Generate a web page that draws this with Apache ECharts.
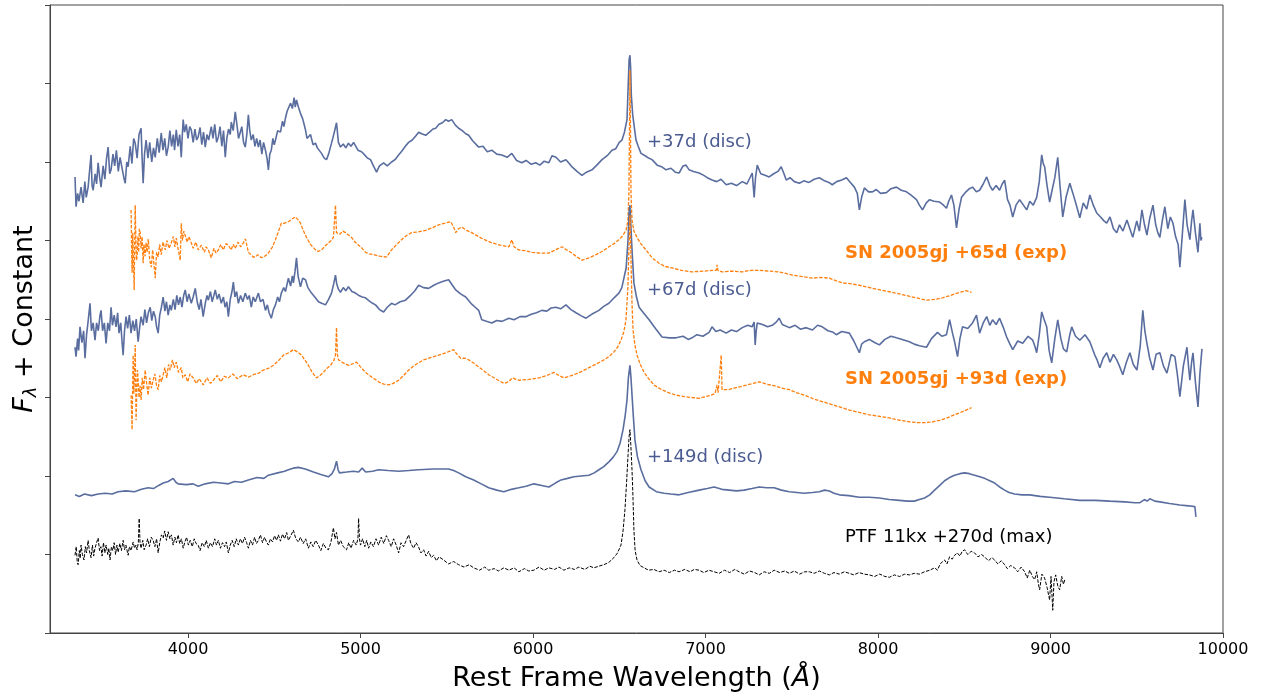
<!DOCTYPE html>
<html><head><meta charset="utf-8">
<script src="https://cdn.jsdelivr.net/npm/echarts@6/dist/echarts.min.js"></script>
<style>html,body{margin:0;padding:0;background:#fff}#c{width:1265px;height:698px}</style>
</head><body><div id="c"></div>
<script>
const xTicks = [4000,5000,6000,7000,8000,9000,10000];
const labels = ['+37d (disc)','SN 2005gj +65d (exp)','+67d (disc)','SN 2005gj +93d (exp)','+149d (disc)','PTF 11kx +270d (max)'];

const s37 = [[3345,5.81],[3351,5.43],[3360,5.60],[3368,5.50],[3380,5.68],[3392,5.48],[3402,5.75],[3410,5.55],[3421,5.68],[3430,5.90],[3438,6.09],[3444,5.70],[3450,5.64],[3462,5.85],[3470,5.72],[3479,5.99],[3488,5.80],[3496,5.68],[3508,5.95],[3518,5.78],[3528,6.05],[3537,6.19],[3546,5.85],[3554,5.90],[3565,6.10],[3575,5.95],[3585,6.15],[3596,5.88],[3606,6.06],[3618,5.92],[3628,5.80],[3636,5.73],[3645,6.00],[3653,5.94],[3665,6.20],[3675,5.98],[3685,6.30],[3694,6.24],[3705,6.05],[3716,6.35],[3728,6.43],[3734,6.05],[3740,5.73],[3748,6.10],[3757,6.28],[3768,6.05],[3778,6.25],[3790,6.00],[3800,6.18],[3810,6.06],[3822,6.30],[3833,6.12],[3845,6.37],[3855,6.15],[3865,6.30],[3875,6.08],[3885,6.19],[3895,6.40],[3905,6.20],[3915,6.35],[3922,6.15],[3932,6.41],[3942,6.20],[3952,6.35],[3961,6.06],[3966,6.30],[3972,6.54],[3980,6.38],[3990,6.48],[4000,6.30],[4010,6.45],[4019,6.41],[4030,6.25],[4040,6.42],[4050,6.28],[4059,6.32],[4070,6.44],[4080,6.22],[4090,6.38],[4100,6.19],[4110,6.35],[4120,6.28],[4135,6.45],[4145,6.30],[4155,6.48],[4166,6.25],[4176,6.32],[4186,6.45],[4196,6.20],[4206,6.40],[4216,6.06],[4225,6.30],[4235,6.42],[4245,6.35],[4251,6.51],[4262,6.40],[4274,6.64],[4285,6.45],[4293,6.30],[4303,6.32],[4312,6.45],[4322,6.25],[4332,6.19],[4341,6.35],[4350,6.60],[4358,6.40],[4367,6.28],[4378,6.35],[4388,6.20],[4398,6.30],[4408,6.19],[4418,6.28],[4428,6.10],[4438,6.25],[4449,6.15],[4458,6.05],[4466,5.90],[4474,6.10],[4483,6.15],[4492,6.30],[4500,6.22],[4507,6.28],[4520,6.40],[4536,6.38],[4548,6.52],[4556,6.45],[4565,6.56],[4575,6.65],[4582,6.66],[4595,6.75],[4605,6.68],[4615,6.82],[4622,6.70],[4629,6.79],[4640,6.70],[4652,6.62],[4665,6.55],[4681,6.41],[4690,6.30],[4698,6.31],[4710,6.35],[4725,6.22],[4739,6.24],[4750,6.18],[4760,6.20],[4774,6.11],[4790,6.05],[4803,6.03],[4815,6.10],[4832,6.24],[4845,6.35],[4861,6.50],[4872,6.25],[4884,6.19],[4900,6.23],[4915,6.18],[4930,6.24],[4945,6.20],[4960,6.25],[4971,6.24],[4985,6.15],[5006,6.13],[5020,6.10],[5040,6.05],[5058,6.03],[5075,5.95],[5093,5.87],[5110,5.95],[5134,5.99],[5155,5.95],[5180,6.00],[5200,6.03],[5221,6.09],[5240,6.14],[5260,6.20],[5279,6.25],[5300,6.28],[5320,6.33],[5337,6.38],[5355,6.36],[5378,6.34],[5400,6.38],[5420,6.42],[5436,6.43],[5455,6.48],[5475,6.50],[5494,6.54],[5510,6.52],[5529,6.54],[5550,6.47],[5569,6.43],[5590,6.40],[5610,6.36],[5627,6.34],[5650,6.27],[5685,6.19],[5710,6.20],[5735,6.13],[5761,6.15],[5790,6.10],[5819,6.09],[5850,6.06],[5877,6.11],[5905,6.02],[5935,5.99],[5960,6.02],[5990,5.97],[6016,5.99],[6040,5.96],[6065,6.01],[6092,5.99],[6110,6.08],[6133,6.06],[6160,6.00],[6191,6.03],[6210,5.98],[6225,5.94],[6255,5.88],[6284,5.83],[6310,5.87],[6342,5.90],[6370,5.96],[6400,6.03],[6430,6.08],[6458,6.15],[6480,6.17],[6500,6.25],[6516,6.28],[6530,6.38],[6545,6.54],[6551,6.92],[6557,7.30],[6562,7.36],[6566,7.20],[6570,6.85],[6578,6.60],[6597,6.28],[6610,6.20],[6626,6.11],[6650,6.08],[6670,6.05],[6690,6.03],[6720,5.96],[6745,5.94],[6771,5.90],[6800,5.92],[6825,5.87],[6847,5.86],[6870,5.95],[6887,5.96],[6905,5.90],[6930,5.88],[6963,5.86],[6990,5.83],[7010,5.80],[7038,5.77],[7065,5.75],[7090,5.78],[7120,5.71],[7150,5.73],[7180,5.70],[7213,5.75],[7240,5.72],[7271,5.86],[7282,5.55],[7290,5.80],[7300,5.96],[7320,5.85],[7345,5.83],[7369,5.81],[7395,5.85],[7420,5.88],[7439,5.94],[7455,5.85],[7468,5.77],[7490,5.80],[7515,5.75],[7544,5.73],[7570,5.76],[7600,5.74],[7630,5.78],[7660,5.80],[7690,5.76],[7715,5.74],[7735,5.71],[7760,5.75],[7790,5.77],[7817,5.80],[7840,5.74],[7863,5.68],[7880,5.60],[7892,5.39],[7905,5.55],[7921,5.67],[7945,5.62],[7968,5.62],[7990,5.65],[8015,5.60],[8049,5.61],[8075,5.66],[8107,5.68],[8135,5.64],[8165,5.62],[8190,5.58],[8223,5.52],[8240,5.45],[8258,5.39],[8280,5.48],[8299,5.52],[8325,5.50],[8357,5.49],[8380,5.45],[8397,5.41],[8410,5.50],[8426,5.58],[8440,5.45],[8455,5.16],[8470,5.40],[8484,5.55],[8510,5.62],[8530,5.66],[8548,5.68],[8570,5.62],[8589,5.64],[8610,5.72],[8630,5.81],[8648,5.70],[8664,5.64],[8685,5.70],[8705,5.64],[8720,5.72],[8734,5.77],[8751,5.52],[8765,5.45],[8781,5.30],[8800,5.45],[8821,5.52],[8840,5.46],[8862,5.39],[8880,5.50],[8900,5.45],[8920,5.55],[8935,5.75],[8949,6.09],[8958,5.98],[8966,5.94],[8980,5.70],[8995,5.49],[9010,5.65],[9025,5.80],[9042,6.06],[9055,5.70],[9071,5.30],[9090,5.55],[9112,5.73],[9130,5.60],[9150,5.45],[9170,5.29],[9190,5.48],[9210,5.40],[9228,5.58],[9248,5.45],[9268,5.35],[9290,5.30],[9310,5.25],[9326,5.22],[9345,5.30],[9365,5.15],[9384,5.10],[9400,5.20],[9420,5.12],[9443,5.26],[9460,5.15],[9477,5.04],[9500,5.25],[9515,5.12],[9530,5.39],[9545,5.20],[9559,5.07],[9575,5.28],[9594,5.45],[9610,5.20],[9622,5.10],[9634,5.04],[9648,5.25],[9663,5.43],[9680,5.15],[9695,5.30],[9710,5.22],[9725,5.05],[9740,4.95],[9750,4.66],[9765,5.10],[9779,5.52],[9792,5.20],[9808,5.01],[9818,5.25],[9826,5.39],[9840,5.10],[9855,4.85],[9866,5.22],[9872,5.00],[9878,5.04]];

const s65 = [[3670,5.39],[3673,4.90],[3676,4.59],[3680,5.10],[3684,4.70],[3688,4.37],[3691,4.95],[3694,5.45],[3698,5.00],[3701,4.75],[3705,4.79],[3710,5.05],[3714,4.85],[3718,5.15],[3723,5.10],[3728,4.90],[3734,5.05],[3740,4.71],[3745,4.95],[3751,4.80],[3757,4.97],[3763,4.85],[3770,5.02],[3778,4.75],[3787,4.66],[3795,4.88],[3802,4.72],[3810,4.52],[3818,4.85],[3827,4.79],[3836,4.95],[3845,4.82],[3855,4.98],[3868,4.88],[3878,5.00],[3890,4.90],[3903,4.97],[3915,5.05],[3924,4.92],[3932,5.03],[3942,4.90],[3955,4.75],[3961,5.22],[3968,5.00],[3976,5.12],[3984,5.10],[3995,4.98],[4005,5.05],[4019,4.97],[4030,4.90],[4045,4.98],[4060,4.88],[4077,4.94],[4095,4.85],[4105,4.92],[4118,4.88],[4135,4.78],[4150,4.90],[4162,4.84],[4176,4.88],[4190,4.95],[4205,4.88],[4220,4.96],[4234,4.94],[4250,4.88],[4262,4.95],[4274,4.90],[4290,4.98],[4305,4.92],[4321,4.97],[4333,5.02],[4343,4.92],[4350,4.85],[4365,4.82],[4378,4.79],[4390,4.79],[4405,4.82],[4425,4.78],[4445,4.80],[4466,4.84],[4490,4.92],[4507,5.01],[4525,5.12],[4541,5.22],[4560,5.22],[4582,5.24],[4600,5.27],[4623,5.30],[4640,5.26],[4652,5.22],[4670,5.12],[4687,5.04],[4710,4.95],[4739,4.88],[4755,4.86],[4774,4.88],[4795,4.93],[4814,4.97],[4830,5.00],[4843,5.04],[4855,5.45],[4861,5.10],[4880,5.08],[4898,5.12],[4913,5.10],[4930,5.07],[4948,5.04],[4968,4.98],[4989,4.94],[5010,4.90],[5029,4.85],[5050,4.83],[5076,4.82],[5110,4.80],[5151,4.79],[5180,4.88],[5210,4.95],[5238,5.01],[5265,5.06],[5296,5.10],[5335,5.11],[5378,5.13],[5415,5.16],[5453,5.20],[5490,5.22],[5523,5.24],[5540,5.17],[5552,5.10],[5568,5.15],[5587,5.17],[5615,5.13],[5645,5.10],[5700,5.03],[5761,4.97],[5810,4.94],[5860,4.92],[5870,4.97],[5877,5.01],[5890,4.92],[5918,4.88],[5955,4.87],[5993,4.85],[6040,4.84],[6092,4.84],[6130,4.88],[6167,4.92],[6195,4.88],[6225,4.84],[6255,4.79],[6284,4.75],[6325,4.78],[6365,4.82],[6400,4.86],[6440,4.92],[6470,4.96],[6498,5.01],[6520,5.06],[6539,5.13],[6550,5.25],[6556,5.60],[6560,6.60],[6562,7.17],[6565,6.50],[6568,5.60],[6574,5.26],[6585,5.12],[6603,5.04],[6625,4.96],[6655,4.88],[6690,4.78],[6731,4.71],[6765,4.67],[6806,4.65],[6860,4.62],[6922,4.60],[6990,4.61],[7040,4.62],[7062,4.62],[7067,4.69],[7072,4.62],[7096,4.60],[7150,4.61],[7213,4.60],[7260,4.62],[7311,4.62],[7370,4.61],[7427,4.60],[7465,4.58],[7503,4.56],[7560,4.54],[7619,4.52],[7670,4.53],[7718,4.52],[7755,4.49],[7793,4.46],[7840,4.45],[7892,4.43],[7990,4.38],[8084,4.34],[8180,4.29],[8281,4.24],[8330,4.25],[8374,4.27],[8420,4.30],[8473,4.34],[8510,4.36],[8542,4.34]];

const s67 = [[3345,3.64],[3351,3.52],[3360,3.75],[3366,3.60],[3374,3.90],[3385,3.70],[3395,3.85],[3403,3.50],[3412,3.80],[3420,3.95],[3432,4.20],[3440,3.85],[3450,3.95],[3461,3.73],[3470,3.95],[3480,3.85],[3490,4.05],[3496,4.11],[3505,3.85],[3515,3.95],[3525,3.69],[3535,3.95],[3545,3.85],[3554,4.15],[3562,3.92],[3572,4.05],[3583,3.90],[3592,4.08],[3600,3.82],[3610,3.95],[3618,3.70],[3624,3.54],[3632,3.85],[3641,4.03],[3650,3.88],[3660,4.05],[3670,3.82],[3680,3.98],[3690,3.85],[3700,4.00],[3711,3.71],[3720,3.90],[3728,4.03],[3740,3.92],[3750,4.12],[3760,3.95],[3770,4.08],[3781,4.15],[3790,3.98],[3800,4.10],[3810,4.03],[3818,3.90],[3827,3.82],[3836,4.05],[3846,4.15],[3856,4.28],[3866,4.10],[3875,4.22],[3885,4.05],[3895,4.18],[3903,4.11],[3915,4.25],[3925,4.12],[3935,4.30],[3945,4.18],[3955,4.28],[3965,4.15],[3975,4.30],[3984,4.37],[3995,4.22],[4005,4.32],[4019,4.20],[4030,4.28],[4042,4.39],[4055,4.20],[4065,4.12],[4075,4.25],[4088,4.03],[4100,4.20],[4110,4.30],[4118,4.24],[4130,4.35],[4140,4.22],[4150,4.30],[4158,4.37],[4170,4.25],[4180,4.32],[4193,4.20],[4205,4.28],[4215,4.15],[4225,4.22],[4234,4.03],[4245,4.25],[4255,4.35],[4263,4.47],[4272,4.28],[4282,4.35],[4292,4.20],[4305,4.30],[4318,4.22],[4332,4.33],[4345,4.25],[4355,4.30],[4367,4.15],[4378,4.28],[4390,4.22],[4408,4.33],[4420,4.22],[4435,4.25],[4449,4.11],[4460,4.18],[4470,4.08],[4483,4.01],[4495,4.12],[4507,4.18],[4520,4.28],[4530,4.22],[4541,4.33],[4555,4.40],[4565,4.35],[4582,4.52],[4595,4.42],[4605,4.55],[4611,4.46],[4620,4.60],[4629,4.78],[4638,4.55],[4645,4.48],[4652,4.41],[4665,4.52],[4681,4.50],[4695,4.40],[4705,4.38],[4716,4.33],[4735,4.28],[4756,4.22],[4775,4.20],[4797,4.18],[4815,4.25],[4832,4.33],[4845,4.45],[4855,4.56],[4862,4.45],[4872,4.38],[4884,4.34],[4900,4.40],[4915,4.36],[4930,4.41],[4950,4.35],[4971,4.33],[4990,4.30],[5010,4.28],[5029,4.27],[5050,4.23],[5070,4.20],[5087,4.18],[5110,4.12],[5134,4.09],[5155,4.15],[5180,4.20],[5200,4.18],[5230,4.22],[5261,4.24],[5290,4.30],[5315,4.36],[5337,4.43],[5365,4.40],[5395,4.39],[5425,4.43],[5453,4.46],[5480,4.48],[5511,4.50],[5530,4.44],[5552,4.37],[5580,4.32],[5610,4.28],[5640,4.20],[5665,4.15],[5685,4.11],[5703,3.99],[5730,3.97],[5761,3.95],[5790,3.98],[5820,3.97],[5860,4.01],[5890,3.99],[5925,4.03],[5958,4.03],[5990,4.06],[6020,4.08],[6051,4.11],[6080,4.10],[6105,4.14],[6133,4.15],[6160,4.13],[6191,4.18],[6220,4.12],[6249,4.08],[6280,4.04],[6307,4.01],[6340,4.06],[6382,4.11],[6410,4.16],[6440,4.20],[6470,4.27],[6498,4.33],[6515,4.40],[6527,4.52],[6540,4.65],[6551,5.01],[6557,5.35],[6562,5.45],[6567,5.20],[6574,4.88],[6585,4.46],[6600,4.28],[6615,4.15],[6640,4.08],[6673,3.99],[6710,3.88],[6748,3.77],[6790,3.76],[6829,3.76],[6870,3.78],[6900,3.74],[6922,3.76],[6950,3.80],[6985,3.78],[7021,3.83],[7038,3.90],[7060,3.84],[7085,3.86],[7120,3.82],[7150,3.86],[7180,3.84],[7213,3.89],[7245,3.92],[7270,3.90],[7282,3.96],[7288,3.67],[7294,3.85],[7300,3.95],[7330,3.93],[7360,3.90],[7387,3.92],[7410,3.96],[7427,4.01],[7445,3.93],[7486,3.89],[7520,3.92],[7550,3.87],[7584,3.89],[7620,3.86],[7650,3.92],[7677,3.90],[7710,3.85],[7740,3.83],[7758,3.80],[7790,3.84],[7834,3.82],[7860,3.72],[7875,3.65],[7892,3.57],[7905,3.68],[7921,3.71],[7950,3.74],[7980,3.70],[8008,3.67],[8040,3.74],[8075,3.78],[8107,3.76],[8140,3.74],[8182,3.71],[8210,3.68],[8240,3.66],[8281,3.64],[8310,3.75],[8345,3.83],[8370,3.78],[8397,3.80],[8415,3.99],[8432,3.82],[8445,3.70],[8461,3.52],[8475,3.75],[8490,3.90],[8520,3.88],[8548,3.95],[8571,4.05],[8589,3.82],[8610,3.95],[8630,4.03],[8648,3.92],[8664,3.99],[8685,3.93],[8705,4.01],[8725,3.90],[8746,3.77],[8765,3.68],[8781,3.61],[8810,3.72],[8839,3.69],[8870,3.78],[8897,3.73],[8910,3.65],[8920,3.57],[8935,3.80],[8949,4.09],[8962,4.00],[8978,3.90],[8992,3.60],[9007,3.44],[9025,3.75],[9042,3.99],[9060,3.75],[9075,3.62],[9094,3.58],[9110,3.78],[9123,3.90],[9145,3.78],[9170,3.73],[9200,3.80],[9228,3.71],[9255,3.55],[9270,3.48],[9286,3.38],[9305,3.50],[9326,3.57],[9345,3.45],[9365,3.55],[9384,3.48],[9400,3.40],[9419,3.29],[9440,3.45],[9460,3.57],[9480,3.42],[9501,3.35],[9520,3.65],[9535,4.11],[9547,3.85],[9559,3.69],[9575,3.50],[9594,3.35],[9612,3.55],[9634,3.57],[9655,3.40],[9675,3.31],[9700,3.55],[9721,3.52],[9735,3.30],[9750,3.01],[9770,3.40],[9791,3.64],[9800,3.40],[9808,3.22],[9818,3.45],[9826,3.57],[9840,3.20],[9855,2.88],[9866,3.30],[9878,3.62]];

const s93 = [[3670,3.03],[3673,2.80],[3676,2.59],[3679,3.10],[3682,3.54],[3686,3.05],[3690,3.30],[3694,3.67],[3697,3.10],[3699,2.71],[3703,3.05],[3707,3.35],[3711,3.22],[3716,3.00],[3722,3.15],[3728,2.97],[3735,3.25],[3742,3.10],[3752,3.35],[3760,3.18],[3769,3.03],[3778,3.25],[3788,3.12],[3798,3.22],[3808,3.30],[3818,3.15],[3827,3.10],[3836,3.28],[3846,3.20],[3856,3.29],[3866,3.38],[3877,3.25],[3887,3.42],[3897,3.35],[3910,3.48],[3920,3.38],[3932,3.45],[3945,3.32],[3961,3.38],[3970,3.25],[3984,3.29],[3998,3.20],[4012,3.30],[4030,3.25],[4048,3.18],[4065,3.24],[4088,3.16],[4110,3.25],[4130,3.18],[4147,3.22],[4170,3.28],[4190,3.20],[4210,3.27],[4234,3.25],[4260,3.30],[4285,3.24],[4321,3.29],[4350,3.26],[4379,3.29],[4410,3.31],[4437,3.35],[4465,3.37],[4495,3.41],[4525,3.47],[4553,3.54],[4585,3.57],[4611,3.61],[4635,3.58],[4658,3.54],[4680,3.47],[4698,3.41],[4720,3.32],[4745,3.25],[4765,3.28],[4785,3.32],[4805,3.37],[4826,3.41],[4845,3.47],[4855,3.54],[4861,3.89],[4866,3.55],[4872,3.48],[4900,3.44],[4930,3.41],[4955,3.43],[4977,3.45],[5000,3.39],[5029,3.32],[5065,3.26],[5105,3.20],[5135,3.17],[5163,3.16],[5190,3.18],[5221,3.22],[5250,3.28],[5279,3.35],[5320,3.42],[5366,3.48],[5410,3.51],[5453,3.54],[5495,3.57],[5540,3.61],[5560,3.55],[5581,3.50],[5605,3.50],[5627,3.48],[5655,3.44],[5685,3.39],[5715,3.34],[5743,3.29],[5790,3.23],[5831,3.18],[5860,3.20],[5880,3.25],[5889,3.25],[5918,3.22],[5975,3.23],[6034,3.25],[6080,3.28],[6121,3.32],[6150,3.28],[6179,3.25],[6210,3.27],[6237,3.29],[6280,3.33],[6324,3.38],[6370,3.43],[6411,3.48],[6440,3.52],[6469,3.58],[6490,3.64],[6510,3.73],[6527,3.84],[6539,3.99],[6550,4.40],[6556,4.88],[6562,5.32],[6568,4.75],[6574,4.20],[6580,3.86],[6590,3.68],[6603,3.54],[6620,3.43],[6644,3.32],[6670,3.24],[6702,3.16],[6745,3.10],[6789,3.06],[6830,3.03],[6876,3.01],[6920,3.00],[6963,2.99],[7000,3.01],[7033,3.03],[7055,3.05],[7067,3.16],[7073,3.06],[7079,3.06],[7091,3.54],[7096,3.10],[7102,3.08],[7135,3.10],[7166,3.12],[7205,3.14],[7242,3.16],[7275,3.18],[7311,3.20],[7355,3.17],[7398,3.15],[7440,3.12],[7486,3.10],[7530,3.06],[7573,3.03],[7630,2.98],[7689,2.94],[7747,2.90],[7790,2.87],[7834,2.84],[7890,2.81],[7950,2.78],[8010,2.76],[8066,2.74],[8125,2.71],[8182,2.69],[8230,2.68],[8270,2.68],[8315,2.69],[8357,2.71],[8400,2.74],[8444,2.78],[8490,2.82],[8542,2.87]];

const s149 = [[3345,1.76],[3370,1.74],[3400,1.77],[3440,1.75],[3479,1.77],[3520,1.78],[3560,1.77],[3595,1.80],[3640,1.81],[3690,1.80],[3730,1.83],[3769,1.85],[3800,1.84],[3830,1.88],[3856,1.91],[3885,1.93],[3914,1.97],[3930,1.92],[3943,1.90],[3990,1.89],[4030,1.90],[4059,1.87],[4100,1.90],[4147,1.92],[4190,1.91],[4234,1.90],[4270,1.93],[4310,1.92],[4350,1.95],[4400,1.98],[4440,1.97],[4466,2.01],[4520,2.04],[4560,2.06],[4582,2.08],[4610,2.10],[4640,2.11],[4680,2.09],[4727,2.05],[4770,2.02],[4814,1.99],[4835,2.03],[4849,2.09],[4861,2.19],[4870,2.08],[4878,2.04],[4920,2.05],[4960,2.06],[4989,2.05],[5010,2.10],[5030,2.05],[5070,2.06],[5105,2.08],[5160,2.07],[5221,2.06],[5280,2.07],[5337,2.08],[5420,2.09],[5470,2.09],[5511,2.09],[5540,2.07],[5569,2.04],[5610,1.99],[5656,1.95],[5700,1.90],[5743,1.85],[5790,1.82],[5831,1.80],[5875,1.83],[5918,1.85],[5960,1.87],[6005,1.90],[6050,1.88],[6092,1.86],[6130,1.91],[6162,1.95],[6200,1.97],[6237,1.99],[6280,2.00],[6324,2.01],[6355,2.04],[6382,2.08],[6410,2.12],[6440,2.18],[6465,2.24],[6487,2.31],[6505,2.42],[6522,2.59],[6535,2.78],[6545,2.97],[6553,3.25],[6562,3.41],[6568,3.25],[6574,3.03],[6582,2.75],[6591,2.46],[6605,2.25],[6626,2.08],[6650,1.94],[6673,1.86],[6715,1.80],[6760,1.78],[6800,1.77],[6847,1.76],[6900,1.79],[6963,1.82],[7010,1.84],[7050,1.86],[7095,1.83],[7137,1.82],[7180,1.81],[7224,1.82],[7270,1.84],[7311,1.86],[7355,1.85],[7398,1.85],[7440,1.82],[7486,1.80],[7530,1.79],[7573,1.78],[7620,1.79],[7660,1.80],[7690,1.82],[7718,1.81],[7745,1.78],[7776,1.76],[7830,1.75],[7892,1.73],[7950,1.73],[8008,1.72],[8065,1.70],[8124,1.69],[8170,1.68],[8211,1.68],[8240,1.70],[8270,1.72],[8300,1.76],[8328,1.82],[8358,1.88],[8386,1.94],[8415,1.98],[8444,2.01],[8475,2.03],[8502,2.04],[8530,2.03],[8560,2.01],[8590,1.99],[8618,1.97],[8648,1.94],[8676,1.91],[8705,1.86],[8734,1.82],[8760,1.79],[8792,1.77],[8835,1.76],[8879,1.76],[8940,1.74],[8995,1.73],[9080,1.71],[9170,1.69],[9260,1.69],[9344,1.68],[9430,1.67],[9490,1.66],[9518,1.66],[9545,1.70],[9560,1.68],[9576,1.71],[9605,1.68],[9634,1.67],[9690,1.65],[9750,1.63],[9800,1.62],[9837,1.61],[9843,1.48]];

const s270 = [[3345,0.99],[3352,1.10],[3358,0.90],[3363,0.87],[3370,1.05],[3375,0.95],[3380,1.12],[3388,1.00],[3397,0.93],[3405,1.10],[3412,1.02],[3421,1.18],[3428,1.05],[3438,0.96],[3446,1.12],[3453,0.98],[3461,1.08],[3470,1.15],[3479,1.21],[3487,1.05],[3495,1.10],[3502,0.98],[3510,1.15],[3518,1.02],[3525,1.12],[3535,1.00],[3541,1.08],[3548,0.93],[3556,1.10],[3564,1.05],[3572,1.15],[3580,1.00],[3588,1.12],[3595,1.03],[3605,1.14],[3614,1.05],[3624,1.18],[3632,1.06],[3640,1.12],[3653,0.99],[3660,1.10],[3670,1.05],[3682,1.16],[3690,1.08],[3698,1.12],[3705,1.06],[3712,1.15],[3717,1.46],[3722,1.15],[3728,1.08],[3738,1.18],[3746,1.06],[3757,1.12],[3766,1.20],[3776,1.10],[3787,1.22],[3798,1.18],[3808,1.10],[3818,1.20],[3827,1.02],[3836,1.15],[3846,1.25],[3856,1.21],[3865,1.30],[3875,1.18],[3885,1.29],[3895,1.20],[3904,1.25],[3914,1.12],[3924,1.22],[3933,1.15],[3943,1.25],[3952,1.14],[3962,1.20],[3972,1.08],[3982,1.16],[3992,1.22],[4002,1.12],[4013,1.18],[4025,1.10],[4036,1.20],[4047,1.14],[4059,1.12],[4070,1.05],[4082,1.15],[4095,1.10],[4106,1.18],[4118,1.08],[4130,1.15],[4142,1.10],[4155,1.20],[4165,1.12],[4176,1.18],[4188,1.08],[4200,1.15],[4212,1.10],[4222,1.16],[4234,1.02],[4245,1.12],[4256,1.18],[4268,1.10],[4280,1.20],[4292,1.12],[4304,1.20],[4316,1.14],[4328,1.22],[4340,1.15],[4350,1.08],[4362,1.18],[4374,1.12],[4386,1.22],[4397,1.14],[4408,1.18],[4420,1.25],[4432,1.15],[4444,1.22],[4455,1.16],[4466,1.12],[4478,1.20],[4490,1.16],[4502,1.24],[4513,1.18],[4524,1.25],[4536,1.17],[4548,1.26],[4560,1.20],[4572,1.28],[4582,1.18],[4596,1.24],[4611,1.31],[4625,1.20],[4640,1.16],[4652,1.22],[4668,1.14],[4682,1.20],[4698,1.08],[4712,1.16],[4726,1.10],[4740,1.18],[4756,1.12],[4770,1.05],[4785,1.14],[4800,1.08],[4814,1.06],[4828,1.15],[4843,1.34],[4852,1.20],[4861,1.28],[4872,1.12],[4885,1.18],[4900,1.10],[4919,1.06],[4932,1.15],[4945,1.08],[4960,1.18],[4975,1.12],[4985,1.20],[4989,1.46],[4994,1.20],[5000,1.12],[5012,1.20],[5025,1.10],[5036,1.18],[5047,1.08],[5060,1.16],[5075,1.10],[5090,1.20],[5105,1.12],[5120,1.22],[5135,1.14],[5150,1.24],[5163,1.18],[5178,1.10],[5192,1.20],[5207,1.12],[5221,1.02],[5235,1.15],[5250,1.10],[5265,1.18],[5279,1.25],[5292,1.14],[5308,1.08],[5322,1.15],[5336,1.10],[5350,1.02],[5366,1.06],[5380,0.98],[5395,1.04],[5410,0.96],[5424,0.99],[5440,0.92],[5455,0.97],[5482,0.93],[5510,0.88],[5540,0.91],[5569,0.87],[5600,0.84],[5630,0.87],[5656,0.83],[5690,0.80],[5720,0.84],[5743,0.80],[5775,0.82],[5800,0.79],[5831,0.83],[5860,0.80],[5890,0.83],[5918,0.78],[5950,0.82],[5975,0.79],[6005,0.80],[6035,0.84],[6065,0.80],[6092,0.83],[6125,0.81],[6150,0.84],[6179,0.80],[6210,0.83],[6240,0.81],[6266,0.84],[6300,0.81],[6330,0.85],[6353,0.83],[6380,0.85],[6411,0.87],[6440,0.90],[6469,0.96],[6490,1.02],[6510,1.12],[6522,1.30],[6533,1.57],[6542,1.90],[6551,2.27],[6557,2.50],[6562,2.59],[6567,2.40],[6574,2.08],[6580,1.70],[6585,1.31],[6592,1.05],[6603,0.93],[6620,0.86],[6644,0.83],[6670,0.80],[6700,0.81],[6731,0.78],[6760,0.80],[6790,0.77],[6820,0.80],[6847,0.78],[6880,0.81],[6910,0.78],[6935,0.81],[6963,0.80],[6990,0.77],[7020,0.80],[7050,0.78],[7079,0.76],[7110,0.80],[7140,0.77],[7170,0.81],[7195,0.78],[7225,0.75],[7255,0.79],[7285,0.77],[7311,0.74],[7340,0.78],[7370,0.76],[7398,0.80],[7430,0.77],[7460,0.79],[7486,0.76],[7515,0.79],[7545,0.75],[7575,0.78],[7602,0.78],[7630,0.76],[7660,0.79],[7690,0.76],[7718,0.74],[7745,0.77],[7775,0.75],[7805,0.78],[7834,0.76],[7860,0.74],[7890,0.77],[7920,0.75],[7950,0.74],[7980,0.72],[8010,0.75],[8040,0.72],[8066,0.71],[8095,0.74],[8125,0.72],[8155,0.75],[8182,0.74],[8210,0.76],[8240,0.75],[8270,0.78],[8300,0.80],[8328,0.83],[8345,0.80],[8360,0.88],[8386,0.93],[8400,0.88],[8415,0.97],[8430,0.94],[8444,0.99],[8460,1.02],[8475,0.98],[8488,1.04],[8502,1.06],[8520,1.00],[8540,1.04],[8560,1.02],[8580,0.97],[8600,1.00],[8618,0.97],[8640,0.92],[8660,0.96],[8676,0.93],[8695,0.88],[8715,0.92],[8734,0.87],[8750,0.82],[8770,0.86],[8792,0.83],[8810,0.78],[8830,0.84],[8850,0.78],[8865,0.70],[8880,0.80],[8895,0.72],[8908,0.68],[8920,0.78],[8930,0.62],[8937,0.55],[8950,0.75],[8966,0.70],[8980,0.58],[8995,0.42],[9003,0.72],[9013,0.29],[9020,0.65],[9030,0.74],[9042,0.60],[9053,0.55],[9065,0.72],[9075,0.62],[9083,0.68]];

const BLUE = '#5a6d9f', ORANGE = '#ff7f0e', BLACK = '#000000', BLUETXT = '#4a5b91';
const chart = echarts.init(document.getElementById('c'), null, {renderer:'canvas'});
function ser(name, data, color, dashed, width){
  return {name, type:'line', data, showSymbol:false, symbol:'none', animation:false, silent:true,
    lineStyle:{color, width, type: dashed ? [3.5,1.5] : 'solid'}};
}
chart.setOption({
  animation:false,
  grid:{left:50, right:42, top:5, bottom:65, show:true, borderColor:'#444', borderWidth:1},
  xAxis:{type:'value', min:3200, max:10000,
    name:'Rest Frame Wavelength ({i|Å})', nameLocation:'middle', nameGap:32,
    nameTextStyle:{fontFamily:'DejaVu Sans', fontSize:27, color:'#000', rich:{i:{fontFamily:'DejaVu Sans', fontSize:27, fontStyle:'italic', color:'#000'}}},
    axisLine:{lineStyle:{color:'#444', width:1}},
    axisTick:{show:true, customValues:xTicks, length:5, lineStyle:{color:'#444'}},
    axisLabel:{customValues:xTicks, formatter:v => String(v), fontFamily:'DejaVu Sans', fontSize:16, color:'#000', margin:9},
    splitLine:{show:false}},
  yAxis:{type:'value', min:0, max:8, interval:1,
    name:'{i|F}{s|λ}{n| + Constant}', nameLocation:'middle', nameGap:10, nameRotate:90,
    nameTextStyle:{rich:{
      i:{fontFamily:'DejaVu Sans', fontSize:27, fontStyle:'italic', color:'#000'},
      s:{fontFamily:'DejaVu Sans', fontSize:18, fontStyle:'italic', color:'#000', padding:[12,0,0,0]},
      n:{fontFamily:'DejaVu Sans', fontSize:27, color:'#000'}}},
    axisLine:{show:true, lineStyle:{color:'#444', width:1}},
    axisTick:{show:true, length:5, lineStyle:{color:'#444'}},
    axisLabel:{show:false}, splitLine:{show:false}},
  series:[
    ser(labels[0], s37, BLUE, false, 1.6),
    ser(labels[1], s65, ORANGE, true, 1.3),
    ser(labels[2], s67, BLUE, false, 1.6),
    ser(labels[3], s93, ORANGE, true, 1.3),
    ser(labels[4], s149, BLUE, false, 1.6),
    ser(labels[5], s270, BLACK, true, 1)
  ],
  graphic:[
    {type:'text', left:647, top:133, style:{text:labels[0], fill:BLUETXT, font:'18px "DejaVu Sans"'}},
    {type:'text', left:845, top:244, style:{text:labels[1], fill:ORANGE, font:'bold 18px "DejaVu Sans"'}},
    {type:'text', left:647, top:281, style:{text:labels[2], fill:BLUETXT, font:'18px "DejaVu Sans"'}},
    {type:'text', left:845, top:370, style:{text:labels[3], fill:ORANGE, font:'bold 18px "DejaVu Sans"'}},
    {type:'text', left:647, top:448, style:{text:labels[4], fill:BLUETXT, font:'18px "DejaVu Sans"'}},
    {type:'text', left:845, top:528, style:{text:labels[5], fill:'#000', font:'18px "DejaVu Sans"'}}
  ]
});
</script></body></html>
